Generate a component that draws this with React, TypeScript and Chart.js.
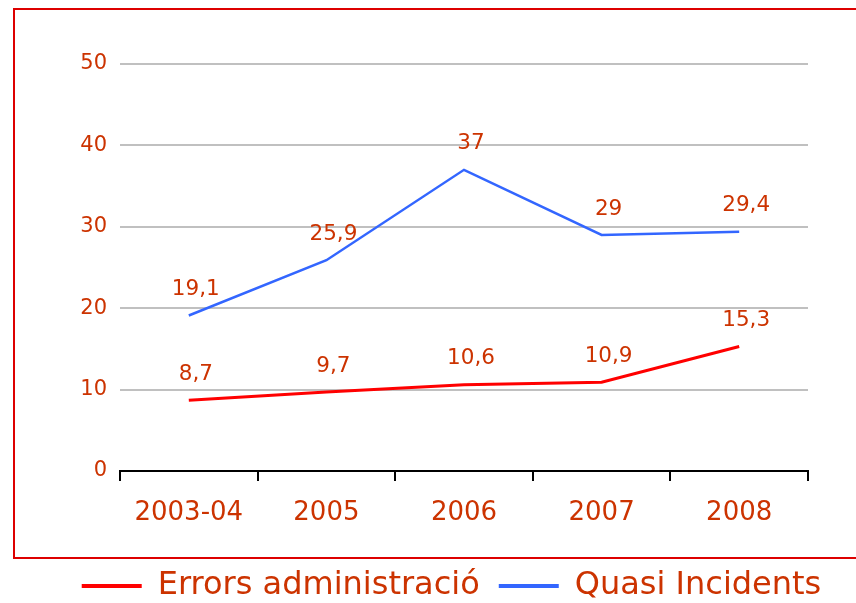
import React, { useEffect, useRef } from "react";
import { Chart, registerables } from "chart.js";

Chart.register(...registerables);

const categories = ["2003-04", "2005", "2006", "2007", "2008"];
const errorsAdministracio = [8.7, 9.7, 10.6, 10.9, 15.3];
const quasiIncidents = [19.1, 25.9, 37, 29, 29.4];
const seriesNames = ["Errors administració", "Quasi Incidents"];

const TEXT = "#cc3300";
const FONT = "'DejaVu Sans', Verdana, sans-serif";

const frame = {
  id: "frame",
  afterDraw(chart: any) {
    const ctx = chart.ctx;
    ctx.save();
    ctx.strokeStyle = "#dd0000";
    ctx.lineWidth = 2;
    ctx.strokeRect(14, 9, 900, 549);
    ctx.restore();
  },
};

const valueLabels = {
  id: "valueLabels",
  afterDatasetsDraw(chart: any) {
    const ctx = chart.ctx;
    ctx.save();
    ctx.font = `21.5px ${FONT}`;
    ctx.fillStyle = TEXT;
    ctx.textAlign = "center";
    ctx.textBaseline = "middle";
    chart.data.datasets.forEach((ds: any, i: number) => {
      const meta = chart.getDatasetMeta(i);
      meta.data.forEach((pt: any, j: number) => {
        const v = ds.data[j];
        ctx.fillText(String(v).replace(".", ","), pt.x + 7, pt.y - 26);
      });
    });
    ctx.restore();
  },
};

export default function App() {
  const ref = useRef<HTMLCanvasElement>(null);
  useEffect(() => {
    if (!ref.current) return;
    const chart = new Chart(ref.current, {
      type: "line",
      data: {
        labels: categories,
        datasets: [
          {
            label: seriesNames[0],
            data: errorsAdministracio,
            borderColor: "#ff0000",
            backgroundColor: "#ff0000",
            borderWidth: 3,
            pointRadius: 0,
            tension: 0,
          },
          {
            label: seriesNames[1],
            data: quasiIncidents,
            borderColor: "#3366ff",
            backgroundColor: "#3366ff",
            borderWidth: 2.5,
            pointRadius: 0,
            tension: 0,
          },
        ],
      },
      options: {
        responsive: false,
        animation: false,
        layout: { padding: { left: 57, right: 10, top: 64, bottom: -9 } },
        plugins: {
          tooltip: { enabled: false },
          legend: {
            position: "bottom",
            labels: {
              boxWidth: 60,
              boxHeight: 4,
              padding: 19,
              color: TEXT,
              font: { size: 32, family: FONT },
              generateLabels: (c: any) =>
                Chart.defaults.plugins.legend.labels
                  .generateLabels(c)
                  .map((l: any) => ({ ...l, lineWidth: 0 })),
            },
          },
        },
        scales: {
          x: {
            offset: true,
            grid: {
              offset: true,
              drawOnChartArea: false,
              drawTicks: true,
              tickLength: 10,
              color: "#000",
              lineWidth: 2,
            },
            border: { display: true, color: "#000", width: 2 },
            ticks: {
              color: TEXT,
              font: { size: 26, family: FONT },
              padding: 17,
              maxRotation: 0,
            },
            afterFit: (s: any) => {
              s.height = 80;
            },
          },
          y: {
            min: 0,
            max: 50,
            ticks: {
              stepSize: 10,
              color: TEXT,
              font: { size: 21, family: FONT },
              padding: 13,
            },
            grid: {
              drawTicks: false,
              color: (c: any) => (c.tick && c.tick.value === 0 ? "rgba(0,0,0,0)" : "#c0c0c0"),
              lineWidth: 2,
            },
            border: { display: false },
            afterFit: (s: any) => {
              s.width = 63;
            },
          },
          y2: {
            position: "right",
            display: true,
            ticks: { display: false },
            grid: { display: false },
            border: { display: false },
            afterFit: (s: any) => {
              s.width = 38;
            },
          },
        },
      },
      plugins: [frame, valueLabels],
    });
    return () => chart.destroy();
  }, []);
  return (
    <div style={{ position: "fixed", left: 0, top: 0, width: 856, height: 603, background: "#fff", overflow: "hidden" }}>
      <canvas ref={ref} width={856} height={603} />
    </div>
  );
}
